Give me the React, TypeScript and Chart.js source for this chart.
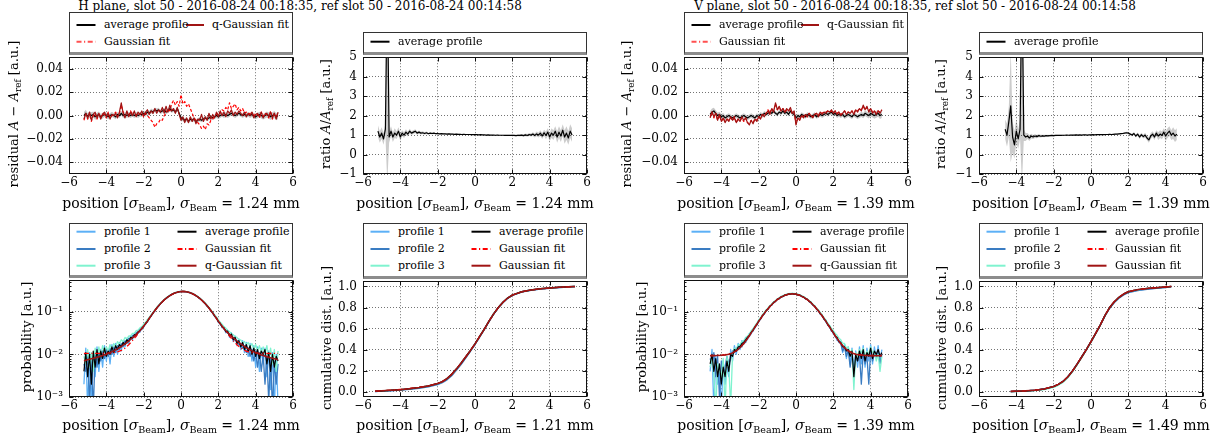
import React, { useEffect, useRef } from 'react';
import { Chart, registerables } from 'chart.js';
Chart.register(...registerables);

// ---------------- data ----------------
const xTicks = [-6, -4, -2, 0, 2, 4, 6];
const resTicks = [-0.04, -0.02, 0, 0.02, 0.04];
const ratioTicks = [-1, 0, 1, 2, 3, 4, 5];
const probTicks = [0.001, 0.01, 0.1];
const cumTicks = [0, 0.2, 0.4, 0.6, 0.8, 1.0];

const posH = [
  -5.2, -5.1, -5.0, -4.9, -4.8, -4.7, -4.6, -4.5, -4.4, -4.3,
  -4.2, -4.1, -4.0, -3.9, -3.8, -3.7, -3.6, -3.5, -3.4, -3.3,
  -3.2, -3.1, -3.0, -2.9, -2.8, -2.7, -2.6, -2.5, -2.4, -2.3,
  -2.2, -2.1, -2.0, -1.9, -1.8, -1.7, -1.6, -1.5, -1.4, -1.3,
  -1.2, -1.1, -1.0, -0.9, -0.8, -0.7, -0.6, -0.5, -0.4, -0.3,
  -0.2, -0.1, 0.0, 0.1, 0.2, 0.3, 0.4, 0.5, 0.6, 0.7,
  0.8, 0.9, 1.0, 1.1, 1.2, 1.3, 1.4, 1.5, 1.6, 1.7,
  1.8, 1.9, 2.0, 2.1, 2.2, 2.3, 2.4, 2.5, 2.6, 2.7,
  2.8, 2.9, 3.0, 3.1, 3.2, 3.3, 3.4, 3.5, 3.6, 3.7,
  3.8, 3.9, 4.0, 4.1, 4.2, 4.3, 4.4, 4.5, 4.6, 4.7,
  4.8, 4.9, 5.0, 5.1, 5.2,
];
const posV = [
  -4.6, -4.5, -4.4, -4.3, -4.2, -4.1, -4.0, -3.9, -3.8, -3.7,
  -3.6, -3.5, -3.4, -3.3, -3.2, -3.1, -3.0, -2.9, -2.8, -2.7,
  -2.6, -2.5, -2.4, -2.3, -2.2, -2.1, -2.0, -1.9, -1.8, -1.7,
  -1.6, -1.5, -1.4, -1.3, -1.2, -1.1, -1.0, -0.9, -0.8, -0.7,
  -0.6, -0.5, -0.4, -0.3, -0.2, -0.1, 0.0, 0.1, 0.2, 0.3,
  0.4, 0.5, 0.6, 0.7, 0.8, 0.9, 1.0, 1.1, 1.2, 1.3,
  1.4, 1.5, 1.6, 1.7, 1.8, 1.9, 2.0, 2.1, 2.2, 2.3,
  2.4, 2.5, 2.6, 2.7, 2.8, 2.9, 3.0, 3.1, 3.2, 3.3,
  3.4, 3.5, 3.6, 3.7, 3.8, 3.9, 4.0, 4.1, 4.2, 4.3,
  4.4, 4.5, 4.6,
];
const posFitH = [
  -5.2, -5.0, -4.8, -4.6, -4.4, -4.2, -4.0, -3.8, -3.6, -3.4,
  -3.2, -3.0, -2.8, -2.6, -2.4, -2.2, -2.0, -1.8, -1.6, -1.4,
  -1.2, -1.0, -0.8, -0.6, -0.4, -0.2, 0.0, 0.2, 0.4, 0.6,
  0.8, 1.0, 1.2, 1.4, 1.6, 1.8, 2.0, 2.2, 2.4, 2.6,
  2.8, 3.0, 3.2, 3.4, 3.6, 3.8, 4.0, 4.2, 4.4, 4.6,
  4.8, 5.0, 5.2,
];
const posFitV = [
  -4.6, -4.4, -4.2, -4.0, -3.8, -3.6, -3.4, -3.2, -3.0, -2.8,
  -2.6, -2.4, -2.2, -2.0, -1.8, -1.6, -1.4, -1.2, -1.0, -0.8,
  -0.6, -0.4, -0.2, 0.0, 0.2, 0.4, 0.6, 0.8, 1.0, 1.2,
  1.4, 1.6, 1.8, 2.0, 2.2, 2.4, 2.6, 2.8, 3.0, 3.2,
  3.4, 3.6, 3.8, 4.0, 4.2, 4.4, 4.6,
];
const cumPosH = [-5.35, -5.0, -4.5, -4.0, -3.5, -3.0, -2.5, -2.0, -1.75, -1.5, -1.25, -1.0, -0.75, -0.5, -0.25, 0.0, 0.25, 0.5, 0.75, 1.0, 1.25, 1.5, 1.75, 2.0, 2.5, 3.0, 3.5, 4.0, 4.5, 5.0, 5.35];
const cumPosV = [-4.3, -4.0, -3.5, -3.0, -2.5, -2.0, -1.75, -1.5, -1.25, -1.0, -0.75, -0.5, -0.25, 0.0, 0.25, 0.5, 0.75, 1.0, 1.25, 1.5, 1.75, 2.0, 2.5, 3.0, 3.5, 4.0, 4.3];

// ---- H plane residual ----
const avgResH = [
  0.000, 0.002, -0.001, 0.001, 0.000, 0.001, -0.001, 0.000, 0.001, -0.001,
  0.000, 0.001, 0.000, -0.001, 0.000, 0.001, 0.000, -0.001, 0.001, 0.000,
  0.002, 0.000, 0.001, 0.000, 0.001, 0.000, 0.001, 0.000, 0.001, 0.000,
  0.001, 0.001, 0.002, 0.001, 0.003, 0.002, 0.004, 0.003, 0.005, 0.004,
  0.005, 0.003, 0.004, 0.005, 0.003, 0.004, 0.006, 0.004, 0.005, 0.003,
  0.006, 0.002, -0.002, -0.003, -0.004, -0.003, -0.005, -0.003, -0.004, -0.003,
  -0.005, -0.004, -0.003, -0.004, -0.003, -0.002, -0.003, -0.002, -0.001, -0.002,
  -0.001, 0.000, -0.001, 0.000, 0.001, 0.000, 0.001, 0.000, 0.001, 0.002,
  0.001, 0.000, 0.001, 0.002, 0.001, 0.000, 0.001, 0.000, 0.001, 0.000,
  0.001, 0.000, -0.001, 0.000, 0.001, 0.000, -0.001, 0.000, 0.001, 0.000,
  -0.001, 0.000, 0.001, -0.001, 0.000,
];
const errResH = [
  0.003, 0.003, 0.003, 0.0028, 0.0028, 0.0026, 0.0026, 0.0025, 0.0025, 0.0024,
  0.0024, 0.0023, 0.0023, 0.0022, 0.0022, 0.0022, 0.0021, 0.0021, 0.002, 0.002,
  0.002, 0.002, 0.002, 0.002, 0.002, 0.002, 0.002, 0.002, 0.002, 0.002,
  0.002, 0.002, 0.002, 0.002, 0.002, 0.002, 0.002, 0.002, 0.002, 0.002,
  0.0018, 0.0018, 0.0018, 0.0018, 0.0018, 0.0018, 0.0018, 0.0018, 0.0018, 0.0018,
  0.0018, 0.0018, 0.0018, 0.0018, 0.0018, 0.0018, 0.0018, 0.0018, 0.0018, 0.0018,
  0.0018, 0.0018, 0.0018, 0.0018, 0.0018, 0.0018, 0.0018, 0.0018, 0.0018, 0.0018,
  0.002, 0.002, 0.002, 0.002, 0.002, 0.002, 0.002, 0.002, 0.002, 0.002,
  0.002, 0.002, 0.002, 0.002, 0.002, 0.002, 0.002, 0.002, 0.002, 0.002,
  0.0021, 0.0022, 0.0022, 0.0023, 0.0023, 0.0024, 0.0024, 0.0025, 0.0026, 0.0027,
  0.0028, 0.0028, 0.003, 0.003, 0.003,
];
const qResH = [
  -0.003, 0.002, -0.002, 0.003, -0.004, 0.001, 0.003, -0.002, 0.002, -0.003,
  0.001, 0.003, -0.001, 0.002, -0.003, 0.001, 0.000, 0.002, -0.002, 0.003,
  0.011, 0.002, -0.002, 0.004, -0.001, 0.003, 0.000, 0.004, -0.001, 0.003,
  0.001, 0.004, 0.000, 0.003, 0.005, 0.001, 0.004, 0.002, 0.006, 0.002,
  0.005, 0.003, 0.007, 0.002, 0.008, 0.003, 0.009, 0.004, 0.006, 0.002,
  0.007, 0.001, -0.004, -0.001, -0.006, -0.002, -0.006, -0.001, -0.005, -0.002,
  -0.007, -0.003, -0.004, 0.001, -0.005, -0.001, -0.004, 0.002, -0.003, 0.001,
  -0.002, 0.003, -0.001, 0.004, 0.000, 0.003, -0.001, 0.004, 0.002, 0.005,
  0.000, 0.003, 0.001, 0.004, 0.002, 0.000, 0.003, -0.001, 0.002, 0.000,
  0.003, -0.002, 0.001, 0.002, -0.001, 0.003, -0.002, 0.001, 0.002, -0.001,
  0.003, -0.002, 0.002, -0.003, 0.003,
];
const gResH = [
  -0.004, 0.001, -0.003, 0.002, -0.005, 0.000, 0.002, -0.003, 0.001, -0.002,
  0.002, 0.001, -0.002, 0.003, -0.002, 0.000, 0.001, 0.003, -0.001, 0.002,
  0.009, 0.003, -0.001, 0.003, 0.000, 0.004, 0.001, 0.003, 0.000, 0.002,
  0.001, 0.002, -0.001, 0.002, 0.000, -0.002, -0.004, -0.006, -0.010, -0.007,
  -0.006, -0.003, -0.004, 0.000, 0.002, 0.006, 0.004, 0.010, 0.013, 0.009,
  0.012, 0.008, 0.018, 0.010, 0.012, 0.008, 0.010, 0.006, 0.002, -0.002,
  -0.004, -0.006, -0.008, -0.011, -0.009, -0.012, -0.007, -0.008, -0.004, -0.003,
  0.000, 0.001, 0.003, 0.002, 0.005, 0.004, 0.007, 0.005, 0.011, 0.006,
  0.008, 0.010, 0.005, 0.007, 0.004, 0.006, 0.002, 0.003, 0.001, 0.002,
  0.003, -0.001, 0.002, 0.001, -0.002, 0.003, -0.001, 0.002, 0.001, -0.002,
  0.004, -0.003, 0.002, -0.002, 0.003,
];

// ---- H plane ratio ----
const ratioH = [
  1.2, 0.9, 1.1, 0.8, 1.3, 9.0, 0.9, 1.2, 0.9, 1.1,
  1.0, 1.2, 0.9, 1.1, 1.0, 1.15, 1.05, 1.2, 1.1, 1.15,
  1.2, 1.1, 1.15, 1.1, 1.12, 1.08, 1.12, 1.07, 1.1, 1.08,
  1.1, 1.07, 1.08, 1.06, 1.07, 1.06, 1.06, 1.05, 1.06, 1.05,
  1.05, 1.04, 1.05, 1.04, 1.04, 1.03, 1.04, 1.03, 1.03, 1.03,
  1.02, 1.03, 1.02, 1.02, 1.01, 1.02, 1.01, 1.01, 1.0, 1.01,
  1.0, 1.0, 1.0, 0.99, 1.0, 0.99, 0.99, 0.99, 0.98, 0.99,
  0.98, 0.98, 0.99, 0.98, 0.97, 0.99, 0.98, 1.0, 0.97, 1.01,
  0.98, 1.03, 1.0, 1.05, 0.98, 1.06, 1.0, 1.1, 0.95, 1.12,
  0.98, 1.15, 0.9, 1.1, 1.0, 1.2, 0.9, 1.15, 0.95, 1.25,
  0.9, 1.1, 0.85, 1.2, 1.0,
];
const errRatioH = [
  0.3, 0.3, 0.3, 0.3, 0.3, 10.5, 0.3, 0.25, 0.25, 0.25,
  0.2, 0.2, 0.2, 0.15, 0.15, 0.15, 0.12, 0.12, 0.1, 0.1,
  0.1, 0.08, 0.08, 0.07, 0.07, 0.06, 0.06, 0.05, 0.05, 0.05,
  0.04, 0.04, 0.04, 0.04, 0.04, 0.04, 0.04, 0.04, 0.04, 0.04,
  0.03, 0.03, 0.03, 0.03, 0.03, 0.03, 0.03, 0.03, 0.03, 0.03,
  0.02, 0.02, 0.02, 0.02, 0.02, 0.02, 0.02, 0.02, 0.02, 0.02,
  0.02, 0.02, 0.02, 0.02, 0.02, 0.03, 0.03, 0.03, 0.03, 0.03,
  0.03, 0.03, 0.04, 0.04, 0.04, 0.05, 0.05, 0.06, 0.06, 0.07,
  0.07, 0.08, 0.08, 0.1, 0.1, 0.12, 0.12, 0.15, 0.15, 0.15,
  0.2, 0.2, 0.2, 0.25, 0.25, 0.25, 0.3, 0.3, 0.3, 0.3,
  0.35, 0.35, 0.35, 0.35, 0.35,
];

// ---- H plane probability ----
const avgProbH = [
  0.004, 0.011, 0.003, 0.010, 0.002, 0.012, 0.005, 0.013, 0.006, 0.012,
  0.008, 0.014, 0.009, 0.012, 0.010, 0.015, 0.011, 0.016, 0.013, 0.017,
  0.015, 0.019, 0.017, 0.022, 0.020, 0.025, 0.024, 0.029, 0.028, 0.034,
  0.036, 0.041, 0.045, 0.053, 0.059, 0.071, 0.080, 0.094, 0.106, 0.124,
  0.137, 0.156, 0.171, 0.191, 0.205, 0.225, 0.238, 0.256, 0.266, 0.280,
  0.287, 0.296, 0.298, 0.302, 0.297, 0.295, 0.286, 0.280, 0.265, 0.256,
  0.237, 0.225, 0.205, 0.191, 0.170, 0.157, 0.136, 0.124, 0.105, 0.095,
  0.079, 0.072, 0.058, 0.054, 0.044, 0.042, 0.034, 0.035, 0.027, 0.030,
  0.022, 0.025, 0.018, 0.021, 0.015, 0.019, 0.013, 0.017, 0.012, 0.016,
  0.010, 0.014, 0.009, 0.013, 0.008, 0.012, 0.010, 0.013, 0.006, 0.011,
  0.004, 0.010, 0.005, 0.009, 0.007,
];
const prof1H = [
  0.002, 0.014, 0.0005, 0.011, 0.0006, 0.009, 0.003, 0.015, 0.004, 0.013,
  0.005, 0.016, 0.007, 0.013, 0.006, 0.017, 0.009, 0.018, 0.010, 0.019,
  0.012, 0.021, 0.015, 0.024, 0.018, 0.027, 0.022, 0.031, 0.026, 0.035,
  0.033, 0.043, 0.043, 0.055, 0.057, 0.073, 0.078, 0.096, 0.103, 0.126,
  0.134, 0.159, 0.168, 0.194, 0.202, 0.228, 0.235, 0.259, 0.263, 0.284,
  0.283, 0.299, 0.296, 0.306, 0.294, 0.298, 0.283, 0.283, 0.262, 0.259,
  0.234, 0.228, 0.202, 0.194, 0.167, 0.160, 0.133, 0.126, 0.102, 0.097,
  0.077, 0.074, 0.056, 0.056, 0.042, 0.044, 0.032, 0.037, 0.025, 0.032,
  0.020, 0.027, 0.016, 0.023, 0.013, 0.021, 0.011, 0.019, 0.009, 0.018,
  0.007, 0.016, 0.005, 0.015, 0.004, 0.014, 0.006, 0.014, 0.003, 0.012,
  0.0015, 0.011, 0.0005, 0.010, 0.0006,
];
const prof2H = [
  0.006, 0.004, 0.009, 0.0008, 0.008, 0.0005, 0.010, 0.005, 0.011, 0.007,
  0.012, 0.008, 0.013, 0.009, 0.014, 0.010, 0.015, 0.011, 0.016, 0.013,
  0.018, 0.015, 0.021, 0.018, 0.024, 0.022, 0.028, 0.026, 0.033, 0.031,
  0.039, 0.038, 0.049, 0.050, 0.063, 0.068, 0.083, 0.091, 0.110, 0.120,
  0.141, 0.153, 0.175, 0.187, 0.210, 0.221, 0.242, 0.252, 0.270, 0.276,
  0.291, 0.292, 0.302, 0.298, 0.302, 0.291, 0.291, 0.276, 0.270, 0.252,
  0.242, 0.221, 0.210, 0.187, 0.175, 0.153, 0.141, 0.120, 0.110, 0.091,
  0.083, 0.068, 0.062, 0.050, 0.048, 0.039, 0.037, 0.031, 0.030, 0.026,
  0.025, 0.021, 0.021, 0.017, 0.018, 0.014, 0.016, 0.011, 0.014, 0.009,
  0.013, 0.007, 0.012, 0.005, 0.011, 0.004, 0.010, 0.002, 0.009, 0.0008,
  0.008, 0.0005, 0.007, 0.002, 0.006,
];
const prof3H = [
  0.009, 0.006, 0.013, 0.005, 0.011, 0.004, 0.014, 0.008, 0.015, 0.009,
  0.016, 0.011, 0.015, 0.012, 0.017, 0.013, 0.018, 0.015, 0.020, 0.017,
  0.022, 0.020, 0.025, 0.023, 0.027, 0.027, 0.031, 0.031, 0.036, 0.037,
  0.042, 0.045, 0.051, 0.057, 0.066, 0.074, 0.086, 0.097, 0.112, 0.127,
  0.142, 0.160, 0.176, 0.194, 0.211, 0.228, 0.243, 0.258, 0.271, 0.282,
  0.291, 0.297, 0.302, 0.303, 0.301, 0.297, 0.290, 0.282, 0.270, 0.258,
  0.242, 0.227, 0.210, 0.193, 0.176, 0.159, 0.142, 0.126, 0.112, 0.097,
  0.086, 0.075, 0.065, 0.057, 0.051, 0.045, 0.041, 0.037, 0.034, 0.031,
  0.029, 0.026, 0.025, 0.022, 0.022, 0.019, 0.020, 0.017, 0.019, 0.015,
  0.018, 0.013, 0.017, 0.012, 0.016, 0.011, 0.015, 0.010, 0.016, 0.008,
  0.014, 0.006, 0.013, 0.004, 0.012,
];
const qFitH = [
  0.0071, 0.0075, 0.0079, 0.0083, 0.0088, 0.0094, 0.0101, 0.0110, 0.0121, 0.0135,
  0.0153, 0.0176, 0.0206, 0.0245, 0.0295, 0.036, 0.046, 0.060, 0.081, 0.107,
  0.138, 0.172, 0.207, 0.239, 0.267, 0.288, 0.299, 0.299, 0.288, 0.267,
  0.239, 0.207, 0.172, 0.138, 0.107, 0.081, 0.060, 0.046, 0.036, 0.0295,
  0.0245, 0.0206, 0.0176, 0.0153, 0.0135, 0.0121, 0.0110, 0.0101, 0.0094, 0.0088,
  0.0083, 0.0079, 0.0075,
];
const gFitH = [
  0.0105, 0.0105, 0.0105, 0.0105, 0.0105, 0.0105, 0.0106, 0.0108, 0.0110, 0.0115,
  0.0124, 0.0140, 0.0168, 0.021, 0.027, 0.035, 0.046, 0.060, 0.081, 0.107,
  0.138, 0.172, 0.207, 0.239, 0.267, 0.288, 0.299, 0.299, 0.288, 0.267,
  0.239, 0.207, 0.172, 0.138, 0.107, 0.081, 0.060, 0.046, 0.035, 0.027,
  0.021, 0.0168, 0.0140, 0.0124, 0.0115, 0.0110, 0.0108, 0.0106, 0.0105, 0.0105,
  0.0105, 0.0105, 0.0105,
];

// ---- H plane cumulative ----
const cumAvgH = [0.004, 0.008, 0.013, 0.020, 0.028, 0.040, 0.055, 0.078, 0.096, 0.125, 0.165, 0.215, 0.27, 0.33, 0.39, 0.455, 0.525, 0.595, 0.67, 0.74, 0.80, 0.85, 0.89, 0.918, 0.95, 0.967, 0.978, 0.986, 0.992, 0.997, 1.0];
const cumP1H = [0.003, 0.007, 0.012, 0.019, 0.027, 0.038, 0.053, 0.075, 0.093, 0.121, 0.161, 0.211, 0.266, 0.327, 0.388, 0.453, 0.523, 0.594, 0.669, 0.739, 0.799, 0.849, 0.889, 0.917, 0.949, 0.966, 0.977, 0.985, 0.991, 0.996, 1.0];
const cumP2H = [0.003, 0.006, 0.010, 0.016, 0.023, 0.034, 0.048, 0.069, 0.087, 0.114, 0.153, 0.203, 0.259, 0.321, 0.383, 0.449, 0.52, 0.592, 0.667, 0.738, 0.798, 0.848, 0.888, 0.916, 0.948, 0.965, 0.976, 0.984, 0.99, 0.996, 1.0];
const cumP3H = [0.004, 0.008, 0.013, 0.020, 0.028, 0.040, 0.055, 0.077, 0.095, 0.124, 0.164, 0.214, 0.269, 0.33, 0.39, 0.455, 0.525, 0.596, 0.67, 0.741, 0.801, 0.851, 0.89, 0.919, 0.95, 0.967, 0.978, 0.986, 0.992, 0.997, 1.0];
const cumGH = [0.006, 0.010, 0.016, 0.023, 0.031, 0.042, 0.056, 0.078, 0.096, 0.125, 0.165, 0.215, 0.27, 0.33, 0.39, 0.455, 0.525, 0.595, 0.67, 0.74, 0.80, 0.85, 0.89, 0.918, 0.949, 0.966, 0.977, 0.985, 0.991, 0.996, 0.999];
const cumQH = [0.005, 0.009, 0.014, 0.020, 0.028, 0.040, 0.055, 0.078, 0.096, 0.125, 0.165, 0.215, 0.27, 0.33, 0.39, 0.455, 0.525, 0.595, 0.67, 0.74, 0.80, 0.85, 0.89, 0.918, 0.95, 0.967, 0.978, 0.986, 0.992, 0.997, 1.0];

// ---- V plane residual ----
const avgResV = [
  0.001, 0.003, 0.004, 0.002, 0.000, 0.001, -0.001, 0.000, -0.002, -0.001,
  0.000, -0.001, -0.002, -0.001, 0.000, -0.001, -0.002, -0.001, 0.000, -0.001,
  -0.002, -0.001, 0.000, -0.001, -0.002, 0.000, -0.001, 0.001, 0.000, 0.002,
  0.001, 0.002, 0.003, 0.002, 0.004, 0.002, 0.001, 0.003, 0.002, 0.004,
  0.002, 0.003, 0.001, 0.004, 0.002, 0.001, -0.002, 0.000, -0.001, 0.001,
  0.000, -0.001, 0.001, 0.000, -0.001, 0.000, 0.001, -0.001, 0.000, 0.001,
  0.000, 0.001, 0.002, 0.001, 0.002, 0.003, 0.001, 0.002, 0.000, 0.001,
  0.000, 0.001, -0.001, 0.000, 0.001, 0.000, -0.001, 0.001, 0.000, -0.001,
  0.000, 0.001, 0.000, 0.002, 0.001, 0.000, 0.002, 0.001, 0.000, 0.001,
  0.002, 0.000, 0.001,
];
const errResV = [
  0.003, 0.003, 0.0028, 0.0026, 0.0025, 0.0024, 0.0023, 0.0022, 0.0022, 0.0021,
  0.002, 0.002, 0.002, 0.002, 0.002, 0.002, 0.002, 0.002, 0.002, 0.002,
  0.002, 0.002, 0.002, 0.002, 0.002, 0.002, 0.002, 0.002, 0.002, 0.002,
  0.0018, 0.0018, 0.0018, 0.0018, 0.0018, 0.0018, 0.0018, 0.0018, 0.0018, 0.0018,
  0.0018, 0.0018, 0.0018, 0.0018, 0.0018, 0.0018, 0.0018, 0.0018, 0.0018, 0.0018,
  0.0018, 0.0018, 0.0018, 0.0018, 0.0018, 0.0018, 0.0018, 0.0018, 0.0018, 0.0018,
  0.002, 0.002, 0.002, 0.002, 0.002, 0.002, 0.002, 0.002, 0.002, 0.002,
  0.002, 0.002, 0.002, 0.002, 0.002, 0.002, 0.002, 0.002, 0.002, 0.002,
  0.0021, 0.0022, 0.0022, 0.0023, 0.0024, 0.0025, 0.0026, 0.0027, 0.0028, 0.0029,
  0.003, 0.003, 0.003,
];
const qResV = [
  -0.002, 0.003, -0.001, 0.002, -0.004, 0.001, -0.005, -0.002, -0.006, -0.003,
  -0.005, -0.001, -0.004, -0.002, -0.006, -0.003, -0.005, -0.001, -0.004, -0.002,
  -0.006, -0.008, -0.004, -0.007, -0.003, -0.005, -0.001, -0.003, 0.001, -0.001,
  0.002, 0.004, 0.001, 0.006, 0.003, 0.011, 0.005, 0.008, 0.004, 0.006,
  0.003, 0.006, 0.004, 0.007, 0.002, 0.004, -0.008, -0.002, -0.004, 0.000,
  -0.002, 0.001, -0.001, 0.002, 0.000, -0.002, 0.001, 0.002, -0.001, 0.003,
  0.001, 0.003, 0.002, 0.004, 0.003, 0.005, 0.002, 0.004, 0.001, 0.003,
  0.000, 0.002, 0.004, 0.001, 0.003, 0.002, 0.004, 0.001, 0.005, 0.003,
  0.006, 0.004, 0.009, 0.005, 0.008, 0.003, 0.006, 0.002, 0.004, 0.001,
  0.004, 0.002, 0.005,
];
const gResV = [
  -0.001, 0.003, -0.002, 0.002, -0.004, 0.000, -0.005, -0.002, -0.005, -0.003,
  -0.004, -0.002, -0.004, -0.001, -0.006, -0.003, -0.004, -0.002, -0.005, -0.002,
  -0.006, -0.007, -0.004, -0.006, -0.003, -0.004, -0.001, -0.002, 0.001, 0.000,
  0.002, 0.005, 0.002, 0.006, 0.004, 0.010, 0.005, 0.007, 0.004, 0.006,
  0.003, 0.005, 0.004, 0.006, 0.002, 0.003, -0.007, -0.002, -0.003, 0.000,
  -0.001, 0.001, -0.001, 0.002, 0.000, -0.001, 0.001, 0.002, 0.000, 0.003,
  0.002, 0.003, 0.003, 0.004, 0.003, 0.004, 0.002, 0.004, 0.002, 0.003,
  0.001, 0.002, 0.004, 0.002, 0.003, 0.002, 0.004, 0.002, 0.005, 0.004,
  0.006, 0.005, 0.008, 0.005, 0.007, 0.004, 0.006, 0.003, 0.004, 0.002,
  0.004, 0.003, 0.005,
];

// ---- V plane ratio ----
const ratioV = [
  1.3, 1.0, 1.7, 2.5, 0.9, 0.5, 1.2, 0.8, 1.3, 9.0,
  1.0, 0.9, 0.95, 0.85, 0.95, 0.9, 0.95, 0.92, 0.97, 0.94,
  0.96, 0.95, 0.97, 0.96, 0.97, 0.98, 0.97, 0.98, 0.98, 0.99,
  0.98, 0.99, 0.99, 1.0, 0.99, 1.0, 1.0, 1.0, 1.01, 1.0,
  1.01, 1.0, 1.01, 1.01, 1.0, 1.01, 1.01, 1.02, 1.01, 1.02,
  1.02, 1.02, 1.03, 1.02, 1.03, 1.03, 1.04, 1.03, 1.04, 1.05,
  1.05, 1.06, 1.07, 1.08, 1.1, 1.12, 1.1, 1.05, 1.0, 1.08,
  0.95, 1.05, 0.9, 1.02, 0.92, 1.0, 0.85, 0.75, 0.95, 1.05,
  0.9, 1.1, 0.95, 1.05, 0.98, 1.15, 0.95, 1.1, 1.2, 1.0,
  1.1, 0.95, 1.05,
];
const errRatioV = [
  0.5, 0.6, 0.8, 2.9, 0.8, 0.7, 0.6, 0.5, 0.5, 10.5,
  0.3, 0.2, 0.15, 0.15, 0.12, 0.1, 0.1, 0.08, 0.08, 0.07,
  0.06, 0.06, 0.05, 0.05, 0.05, 0.04, 0.04, 0.04, 0.03, 0.03,
  0.03, 0.03, 0.03, 0.03, 0.03, 0.03, 0.03, 0.03, 0.03, 0.03,
  0.02, 0.02, 0.02, 0.02, 0.02, 0.02, 0.02, 0.02, 0.02, 0.02,
  0.02, 0.02, 0.02, 0.02, 0.02, 0.03, 0.03, 0.03, 0.03, 0.03,
  0.03, 0.03, 0.04, 0.04, 0.05, 0.05, 0.06, 0.06, 0.07, 0.07,
  0.08, 0.08, 0.1, 0.1, 0.1, 0.12, 0.12, 0.15, 0.15, 0.15,
  0.15, 0.15, 0.2, 0.2, 0.2, 0.2, 0.25, 0.25, 0.25, 0.25,
  0.3, 0.3, 0.3,
];

// ---- V plane probability ----
const avgProbV = [
  0.006, 0.010, 0.004, 0.008, 0.003, 0.006, 0.002, 0.005, 0.003, 0.007,
  0.004, 0.010, 0.009, 0.013, 0.012, 0.015, 0.015, 0.018, 0.019, 0.022,
  0.025, 0.028, 0.033, 0.037, 0.044, 0.050, 0.060, 0.068, 0.081, 0.090,
  0.107, 0.116, 0.135, 0.145, 0.166, 0.175, 0.197, 0.204, 0.224, 0.229,
  0.247, 0.249, 0.262, 0.258, 0.268, 0.258, 0.262, 0.248, 0.246, 0.230,
  0.223, 0.204, 0.197, 0.175, 0.166, 0.145, 0.135, 0.116, 0.107, 0.090,
  0.082, 0.068, 0.061, 0.050, 0.045, 0.037, 0.033, 0.027, 0.025, 0.020,
  0.019, 0.015, 0.015, 0.012, 0.013, 0.009, 0.012, 0.003, 0.010, 0.007,
  0.012, 0.008, 0.013, 0.007, 0.011, 0.009, 0.014, 0.008, 0.012, 0.010,
  0.013, 0.009, 0.011,
];
const prof1V = [
  0.004, 0.013, 0.0005, 0.009, 0.002, 0.004, 0.0005, 0.007, 0.002, 0.005,
  0.003, 0.013, 0.007, 0.016, 0.010, 0.018, 0.013, 0.021, 0.017, 0.025,
  0.022, 0.031, 0.030, 0.040, 0.041, 0.053, 0.057, 0.071, 0.077, 0.094,
  0.102, 0.120, 0.130, 0.150, 0.160, 0.181, 0.191, 0.211, 0.217, 0.236,
  0.240, 0.255, 0.255, 0.266, 0.260, 0.266, 0.255, 0.256, 0.240, 0.237,
  0.217, 0.211, 0.191, 0.181, 0.160, 0.150, 0.130, 0.120, 0.102, 0.094,
  0.077, 0.071, 0.057, 0.052, 0.042, 0.038, 0.030, 0.028, 0.021, 0.021,
  0.020, 0.011, 0.017, 0.008, 0.015, 0.006, 0.014, 0.004, 0.012, 0.005,
  0.015, 0.006, 0.016, 0.005, 0.014, 0.007, 0.017, 0.006, 0.015, 0.008,
  0.016, 0.007, 0.013,
];
const prof2V = [
  0.008, 0.006, 0.011, 0.003, 0.009, 0.001, 0.007, 0.003, 0.005, 0.009,
  0.006, 0.008, 0.012, 0.011, 0.014, 0.013, 0.016, 0.015, 0.021, 0.019,
  0.026, 0.026, 0.034, 0.035, 0.046, 0.048, 0.063, 0.066, 0.084, 0.088,
  0.109, 0.114, 0.138, 0.143, 0.169, 0.173, 0.200, 0.202, 0.228, 0.226,
  0.250, 0.247, 0.265, 0.256, 0.270, 0.256, 0.265, 0.246, 0.250, 0.228,
  0.226, 0.202, 0.200, 0.173, 0.169, 0.143, 0.138, 0.114, 0.109, 0.088,
  0.084, 0.066, 0.063, 0.048, 0.046, 0.035, 0.034, 0.026, 0.025, 0.019,
  0.018, 0.012, 0.015, 0.009, 0.013, 0.005, 0.010, 0.004, 0.008, 0.007,
  0.010, 0.002, 0.011, 0.006, 0.009, 0.002, 0.012, 0.007, 0.010, 0.009,
  0.012, 0.006, 0.010,
];
const prof3V = [
  0.005, 0.009, 0.003, 0.0005, 0.006, 0.004, 0.003, 0.008, 0.0005, 0.009,
  0.005, 0.0006, 0.010, 0.014, 0.013, 0.017, 0.017, 0.020, 0.021, 0.024,
  0.027, 0.030, 0.036, 0.040, 0.047, 0.054, 0.064, 0.073, 0.085, 0.096,
  0.110, 0.123, 0.138, 0.153, 0.169, 0.184, 0.200, 0.214, 0.226, 0.240,
  0.250, 0.259, 0.265, 0.268, 0.270, 0.268, 0.265, 0.259, 0.250, 0.240,
  0.226, 0.214, 0.200, 0.184, 0.169, 0.153, 0.138, 0.123, 0.110, 0.096,
  0.085, 0.073, 0.064, 0.055, 0.048, 0.041, 0.036, 0.031, 0.028, 0.024,
  0.022, 0.018, 0.018, 0.014, 0.015, 0.011, 0.013, 0.0015, 0.011, 0.009,
  0.013, 0.011, 0.014, 0.009, 0.012, 0.010, 0.015, 0.011, 0.012, 0.007,
  0.010, 0.004, 0.009,
];
const qFitV = [
  0.0093, 0.0093, 0.0094, 0.0095, 0.0097, 0.0101, 0.0108, 0.0121, 0.0143, 0.0179,
  0.0236, 0.0319, 0.0437, 0.0596, 0.0799, 0.1046, 0.1328, 0.163, 0.194, 0.220,
  0.243, 0.258, 0.263, 0.258, 0.243, 0.220, 0.194, 0.163, 0.1328, 0.1046,
  0.0799, 0.0596, 0.0437, 0.0319, 0.0236, 0.0179, 0.0143, 0.0121, 0.0108, 0.0101,
  0.0097, 0.0095, 0.0094, 0.0093, 0.0093, 0.0093, 0.0093,
];
const gFitV = [
  0.0094, 0.0094, 0.0095, 0.0096, 0.0098, 0.0102, 0.0109, 0.0122, 0.0144, 0.0180,
  0.0237, 0.0320, 0.0438, 0.0597, 0.0800, 0.1046, 0.1327, 0.1628, 0.1938, 0.2198,
  0.2428, 0.2578, 0.2628, 0.2578, 0.2428, 0.2198, 0.1938, 0.1628, 0.1327, 0.1046,
  0.0800, 0.0597, 0.0438, 0.0320, 0.0237, 0.0180, 0.0144, 0.0122, 0.0109, 0.0102,
  0.0098, 0.0096, 0.0095, 0.0094, 0.0094, 0.0094, 0.0094,
];

// ---- V plane cumulative ----
const cumAvgV = [0.002, 0.004, 0.008, 0.014, 0.026, 0.05, 0.07, 0.098, 0.14, 0.195, 0.26, 0.33, 0.40, 0.475, 0.555, 0.635, 0.725, 0.80, 0.855, 0.897, 0.928, 0.95, 0.97, 0.981, 0.988, 0.995, 1.0];
const cumP1V = [0.002, 0.004, 0.008, 0.014, 0.025, 0.049, 0.069, 0.097, 0.139, 0.194, 0.259, 0.329, 0.399, 0.474, 0.554, 0.634, 0.723, 0.798, 0.852, 0.894, 0.924, 0.946, 0.966, 0.977, 0.985, 0.992, 0.999];
const cumP2V = [0.002, 0.004, 0.008, 0.014, 0.026, 0.05, 0.07, 0.098, 0.14, 0.195, 0.26, 0.33, 0.40, 0.474, 0.553, 0.632, 0.72, 0.794, 0.848, 0.889, 0.92, 0.942, 0.962, 0.974, 0.983, 0.991, 0.998];
const cumP3V = [0.002, 0.003, 0.006, 0.011, 0.021, 0.043, 0.062, 0.09, 0.132, 0.188, 0.254, 0.325, 0.396, 0.472, 0.553, 0.634, 0.724, 0.799, 0.854, 0.896, 0.927, 0.949, 0.969, 0.98, 0.987, 0.994, 1.0];
const cumGV = [0.003, 0.005, 0.009, 0.015, 0.027, 0.051, 0.071, 0.099, 0.141, 0.196, 0.261, 0.331, 0.401, 0.476, 0.556, 0.636, 0.726, 0.801, 0.856, 0.898, 0.929, 0.951, 0.971, 0.982, 0.989, 0.996, 1.0];
const cumQV = [0.003, 0.005, 0.009, 0.015, 0.027, 0.05, 0.07, 0.098, 0.14, 0.195, 0.26, 0.33, 0.40, 0.475, 0.555, 0.635, 0.725, 0.80, 0.855, 0.897, 0.928, 0.95, 0.97, 0.981, 0.988, 0.995, 1.0];

const titleH = 'H plane, slot 50 - 2016-08-24 00:18:35, ref slot 50 - 2016-08-24 00:14:58';
const titleV = 'V plane, slot 50 - 2016-08-24 00:18:35, ref slot 50 - 2016-08-24 00:14:58';

// ---------------- styling ----------------
const FONT = "'DejaVu Serif', serif";
const C_BLACK = '#000000';
const C_DARKRED = '#a01414';
const C_RED = '#ff0000';
const C_P1 = '#5cb0f6';
const C_P2 = '#3a7cc2';
const C_P3 = '#7ff3cf';
const DASHDOT = [5, 2.5, 1.2, 2.5];

const LY = 48;
const LX = 24;
const PT = 10;
const PR = 12;

type Line = { xs: number[]; ys: number[]; color: string; width?: number; dash?: number[] };
type Band = { xs: number[]; mid: number[]; err: number[]; color: string };
type Spec = {
  left: number; top: number; w: number; h: number; log?: boolean;
  yMin: number; yMax: number; yTicks: number[]; yFmt: (v: number) => string;
  band?: Band; lines: Line[];
};

const minus = (v: number, s: string) => (v < 0 ? '\u2212' : '') + s;
const fmtX = (v: number) => minus(v, String(Math.abs(Math.round(v))));
const fmtRes = (v: number) => minus(v, Math.abs(v).toFixed(2));
const fmtRatio = (v: number) => minus(v, String(Math.abs(Math.round(v))));
const fmtCum = (v: number) => v.toFixed(1);
const SUP: Record<string, string> = { '-': '\u207B', '0': '\u2070', '1': '\u00B9', '2': '\u00B2', '3': '\u00B3' };
const fmtLog = (v: number) => '10' + String(Math.round(Math.log10(v))).split('').map((c) => SUP[c] ?? c).join('');

const framePlugin = {
  id: 'frameTicks',
  afterDraw(chart: any) {
    const { ctx, chartArea: a, scales } = chart;
    const L = Math.round(a.left) + 0.5;
    const R = Math.round(a.right) - 0.5;
    const T = Math.round(a.top) + 0.5;
    const B = Math.round(a.bottom) - 0.5;
    ctx.save();
    ctx.strokeStyle = '#111';
    ctx.lineWidth = 1;
    ctx.setLineDash([]);
    ctx.strokeRect(L, T, R - L, B - T);
    ctx.beginPath();
    for (const t of scales.x.ticks) {
      const px = Math.round(scales.x.getPixelForValue(t.value)) + 0.5;
      ctx.moveTo(px, T); ctx.lineTo(px, T + 4);
      ctx.moveTo(px, B); ctx.lineTo(px, B - 4);
    }
    for (const t of scales.y.ticks) {
      const py = Math.round(scales.y.getPixelForValue(t.value)) + 0.5;
      ctx.moveTo(L, py); ctx.lineTo(L + 4, py);
      ctx.moveTo(R, py); ctx.lineTo(R - 4, py);
    }
    if (scales.y.type === 'logarithmic') {
      const ys = scales.y;
      for (const dec of [0.001, 0.01, 0.1]) {
        for (let m = 2; m <= 9; m++) {
          const v = m * dec;
          if (v <= ys.min || v >= ys.max) continue;
          const py = Math.round(ys.getPixelForValue(v)) + 0.5;
          ctx.moveTo(L, py); ctx.lineTo(L + 2, py);
          ctx.moveTo(R, py); ctx.lineTo(R - 2, py);
        }
      }
    }
    ctx.stroke();
    ctx.restore();
  },
};

function buildConfig(spec: Spec): any {
  const ds: any[] = [];
  if (spec.band) {
    const b = spec.band;
    ds.push({
      data: b.xs.map((x, i) => ({ x, y: b.mid[i] - b.err[i] })),
      borderWidth: 0, pointRadius: 0, fill: false, backgroundColor: 'transparent', borderColor: 'transparent',
    });
    ds.push({
      data: b.xs.map((x, i) => ({ x, y: b.mid[i] + b.err[i] })),
      borderWidth: 0, pointRadius: 0, fill: '-1', backgroundColor: b.color, borderColor: 'transparent',
    });
  }
  for (const l of spec.lines) {
    ds.push({
      data: l.xs.map((x, i) => ({ x, y: l.ys[i] })),
      borderColor: l.color, borderWidth: l.width ?? 1.2, borderDash: l.dash ?? [],
      pointRadius: 0, fill: false, tension: 0, borderJoinStyle: 'round', borderCapStyle: 'butt',
    });
  }
  const n = ds.length;
  ds.forEach((d, i) => { d.order = n - i; });
  const tickFont = { family: FONT, size: 12 };
  const gridOpts = { color: 'rgba(0,0,0,0.55)', lineWidth: 1, drawTicks: false };
  return {
    type: 'line',
    data: { datasets: ds },
    options: {
      animation: false,
      responsive: false,
      maintainAspectRatio: false,
      devicePixelRatio: 1,
      events: [],
      layout: { padding: { left: 0, top: PT, right: PR, bottom: 0 } },
      plugins: { legend: { display: false }, tooltip: { enabled: false }, title: { display: false } },
      scales: {
        x: {
          type: 'linear', min: -6, max: 6,
          afterBuildTicks: (ax: any) => { ax.ticks = xTicks.map((v) => ({ value: v })); },
          afterFit: (s: any) => { s.height = LX; },
          grid: gridOpts,
          border: { display: false, dash: [1, 2] },
          ticks: { font: tickFont, color: '#000', padding: 2, maxRotation: 0, autoSkip: false, callback: (v: any) => fmtX(Number(v)) },
        },
        y: {
          type: spec.log ? 'logarithmic' : 'linear', min: spec.yMin, max: spec.yMax,
          afterBuildTicks: (ax: any) => { ax.ticks = spec.yTicks.map((v) => ({ value: v })); },
          afterFit: (s: any) => { s.width = LY; },
          grid: gridOpts,
          border: { display: false, dash: [1, 2] },
          ticks: { font: tickFont, color: '#000', padding: 6, autoSkip: false, callback: (v: any) => spec.yFmt(Number(v)) },
        },
      },
    },
    plugins: [framePlugin],
  };
}

function ChartPanel({ spec }: { spec: Spec }) {
  const ref = useRef<HTMLCanvasElement>(null);
  useEffect(() => {
    const chart = new Chart(ref.current as HTMLCanvasElement, buildConfig(spec));
    return () => chart.destroy();
  }, []);
  const cw = LY + spec.w + PR;
  const ch = PT + spec.h + LX;
  return (
    <canvas
      ref={ref}
      width={cw}
      height={ch}
      style={{ position: 'absolute', left: spec.left - LY, top: spec.top - PT, width: cw, height: ch }}
    />
  );
}

const subS: React.CSSProperties = { fontSize: '0.68em', verticalAlign: '-0.3em', lineHeight: 0 };

function XLabel({ cx, top, sigma }: { cx: number; top: number; sigma: string }) {
  return (
    <div style={{ position: 'absolute', left: cx - 200, width: 400, top, textAlign: 'center', fontSize: 14, lineHeight: '18px', whiteSpace: 'nowrap' }}>
      position [<i>σ</i><span style={subS}>Beam</span>], <i>σ</i><span style={subS}>Beam</span> = {sigma} mm
    </div>
  );
}

function YLabel({ cx, cy, children }: { cx: number; cy: number; children: React.ReactNode }) {
  return (
    <div style={{ position: 'absolute', left: cx, top: cy, transform: 'translate(-50%, -50%) rotate(-90deg)', fontSize: 13, lineHeight: '16px', whiteSpace: 'nowrap' }}>
      {children}
    </div>
  );
}

type LegItem = { label: string; color: string; dash?: number[]; col: number; row: number };
type LegCol = { l1: number; l2: number; tx: number };

function Legend({ left, top, width, bottom, rows, cols, items }: { left: number; top: number; width: number; bottom: number; rows: number[]; cols: LegCol[]; items: LegItem[] }) {
  const h = bottom - top;
  return (
    <div style={{ position: 'absolute', left, top, width, height: h, boxSizing: 'border-box', border: '1px solid #333', borderBottom: '3px solid #8c8c8c', background: '#fff' }}>
      <svg width={width} height={h} style={{ position: 'absolute', left: -1, top: -1, overflow: 'visible' }}>
        {items.map((it, i) => (
          <line
            key={i}
            x1={cols[it.col].l1} x2={cols[it.col].l2}
            y1={rows[it.row] - top} y2={rows[it.row] - top}
            stroke={it.color} strokeWidth={2}
            strokeDasharray={it.dash ? it.dash.join(' ') : undefined}
          />
        ))}
      </svg>
      {items.map((it, i) => (
        <div key={i} style={{ position: 'absolute', left: cols[it.col].tx - 1, top: rows[it.row] - top - 8, fontSize: 11, lineHeight: '14px', whiteSpace: 'nowrap' }}>
          {it.label}
        </div>
      ))}
    </div>
  );
}

const COL1: LegCol = { l1: 7.5, l2: 26.5, tx: 35 };
const COL2R: LegCol = { l1: 117, l2: 135, tx: 143 };
const COL2B: LegCol = { l1: 108.5, l2: 127.5, tx: 136 };

const resItems: LegItem[] = [
  { label: 'average profile', color: C_BLACK, col: 0, row: 0 },
  { label: 'Gaussian fit', color: '#ff5050', dash: DASHDOT, col: 0, row: 1 },
  { label: 'q-Gaussian fit', color: C_DARKRED, col: 1, row: 0 },
];
const ratioItems: LegItem[] = [{ label: 'average profile', color: C_BLACK, col: 0, row: 0 }];
const probItems = (last: string): LegItem[] => [
  { label: 'profile 1', color: C_P1, col: 0, row: 0 },
  { label: 'profile 2', color: C_P2, col: 0, row: 1 },
  { label: 'profile 3', color: C_P3, col: 0, row: 2 },
  { label: 'average profile', color: C_BLACK, col: 1, row: 0 },
  { label: 'Gaussian fit', color: C_RED, dash: DASHDOT, col: 1, row: 1 },
  { label: last, color: C_DARKRED, col: 1, row: 2 },
];

const W = 224;
const TOP_T = 54;
const TOP_H = 120;

function resSpec(left: number, xs: number[], avg: number[], err: number[], g: number[], q: number[]): Spec {
  return {
    left, top: TOP_T, w: W, h: TOP_H, yMin: -0.05, yMax: 0.05, yTicks: resTicks, yFmt: fmtRes,
    band: { xs, mid: avg, err, color: 'rgba(0,0,0,0.22)' },
    lines: [
      { xs, ys: avg, color: C_BLACK, width: 1.2 },
      { xs, ys: g, color: C_RED, width: 1.2, dash: [3, 2] },
      { xs, ys: q, color: C_DARKRED, width: 1.2 },
    ],
  };
}
function ratioSpec(left: number, xs: number[], avg: number[], err: number[]): Spec {
  return {
    left, top: TOP_T, w: W, h: TOP_H, yMin: -1, yMax: 5, yTicks: ratioTicks, yFmt: fmtRatio,
    band: { xs, mid: avg, err, color: 'rgba(0,0,0,0.2)' },
    lines: [{ xs, ys: avg, color: C_BLACK, width: 1.2 }],
  };
}
function probSpec(left: number, xs: number[], p1: number[], p2: number[], p3: number[], avg: number[], fx: number[], g: number[], q: number[]): Spec {
  return {
    left, top: 277, w: W, h: 120, log: true, yMin: 0.001, yMax: 0.55, yTicks: probTicks, yFmt: fmtLog,
    lines: [
      { xs, ys: p1, color: C_P1, width: 1.3 },
      { xs, ys: p2, color: C_P2, width: 1.3 },
      { xs, ys: p3, color: C_P3, width: 1.3 },
      { xs, ys: avg, color: C_BLACK, width: 1.2 },
      { xs: fx, ys: g, color: C_RED, width: 1.3, dash: DASHDOT },
      { xs: fx, ys: q, color: C_DARKRED, width: 1.5 },
    ],
  };
}
function cumSpec(left: number, xs: number[], p1: number[], p2: number[], p3: number[], avg: number[], g: number[], q: number[]): Spec {
  return {
    left, top: 278, w: W, h: 119, yMin: -0.05, yMax: 1.05, yTicks: cumTicks, yFmt: fmtCum,
    lines: [
      { xs, ys: p1, color: C_P1, width: 1.5 },
      { xs, ys: p2, color: C_P2, width: 1.5 },
      { xs, ys: p3, color: C_P3, width: 1.5 },
      { xs, ys: avg, color: C_BLACK, width: 1.5 },
      { xs, ys: g, color: C_RED, width: 1.3, dash: DASHDOT },
      { xs, ys: q, color: C_DARKRED, width: 1.5 },
    ],
  };
}

const specs: Spec[] = [
  resSpec(69, posH, avgResH, errResH, gResH, qResH),
  ratioSpec(363, posH, ratioH, errRatioH),
  probSpec(69, posH, prof1H, prof2H, prof3H, avgProbH, posFitH, gFitH, qFitH),
  cumSpec(363, cumPosH, cumP1H, cumP2H, cumP3H, cumAvgH, cumGH, cumQH),
  resSpec(684, posV, avgResV, errResV, gResV, qResV),
  ratioSpec(979, posV, ratioV, errRatioV),
  probSpec(684, posV, prof1V, prof2V, prof3V, avgProbV, posFitV, gFitV, qFitV),
  cumSpec(979, cumPosV, cumP1V, cumP2V, cumP3V, cumAvgV, cumGV, cumQV),
];

const resLabel = (<>residual <i>A</i> − <i>A</i><span style={subS}>ref</span> [a.u.]</>);
const ratioLabel = (<>ratio <i>A</i>/<i>A</i><span style={subS}>ref</span> [a.u.]</>);

export default function App() {
  return (
    <div style={{ position: 'absolute', left: 0, top: 0, width: 1225, height: 442, background: '#fff', fontFamily: FONT, color: '#000', overflow: 'hidden' }}>
      {specs.map((s, i) => <ChartPanel key={i} spec={s} />)}

      <div style={{ position: 'absolute', left: 0, width: 600, top: -1, textAlign: 'center', fontSize: 12, lineHeight: '14px', whiteSpace: 'nowrap' }}>{titleH}</div>
      <div style={{ position: 'absolute', left: 615, width: 600, top: -1, textAlign: 'center', fontSize: 12, lineHeight: '14px', whiteSpace: 'nowrap' }}>{titleV}</div>

      <Legend left={69} top={12} width={W} bottom={TOP_T + 1} rows={[25, 41.7]} cols={[COL1, COL2R]} items={resItems} />
      <Legend left={363} top={32} width={W} bottom={TOP_T + 1} rows={[41.7]} cols={[COL1]} items={ratioItems} />
      <Legend left={69} top={223} width={W} bottom={278} rows={[231.7, 249, 265.7]} cols={[COL1, COL2B]} items={probItems('q-Gaussian fit')} />
      <Legend left={363} top={223} width={W} bottom={279} rows={[231.7, 249, 265.7]} cols={[COL1, COL2B]} items={probItems('Gaussian fit')} />
      <Legend left={684} top={12} width={W} bottom={TOP_T + 1} rows={[25, 41.7]} cols={[COL1, COL2R]} items={resItems} />
      <Legend left={979} top={32} width={W} bottom={TOP_T + 1} rows={[41.7]} cols={[COL1]} items={ratioItems} />
      <Legend left={684} top={223} width={W} bottom={278} rows={[231.7, 249, 265.7]} cols={[COL1, COL2B]} items={probItems('q-Gaussian fit')} />
      <Legend left={979} top={223} width={W} bottom={279} rows={[231.7, 249, 265.7]} cols={[COL1, COL2B]} items={probItems('Gaussian fit')} />

      <YLabel cx={13.5} cy={114}>{resLabel}</YLabel>
      <YLabel cx={325.7} cy={114}>{ratioLabel}</YLabel>
      <YLabel cx={27} cy={337}>probability [a.u.]</YLabel>
      <YLabel cx={326.5} cy={337.5}>cumulative dist. [a.u.]</YLabel>
      <YLabel cx={627} cy={114}>{resLabel}</YLabel>
      <YLabel cx={940.7} cy={114}>{ratioLabel}</YLabel>
      <YLabel cx={641.5} cy={337}>probability [a.u.]</YLabel>
      <YLabel cx={941.5} cy={337.5}>cumulative dist. [a.u.]</YLabel>

      <XLabel cx={181} top={194} sigma="1.24" />
      <XLabel cx={475} top={194} sigma="1.24" />
      <XLabel cx={181} top={416} sigma="1.24" />
      <XLabel cx={475} top={416} sigma="1.21" />
      <XLabel cx={796} top={194} sigma="1.39" />
      <XLabel cx={1091} top={194} sigma="1.39" />
      <XLabel cx={796} top={416} sigma="1.39" />
      <XLabel cx={1091} top={416} sigma="1.49" />
    </div>
  );
}
